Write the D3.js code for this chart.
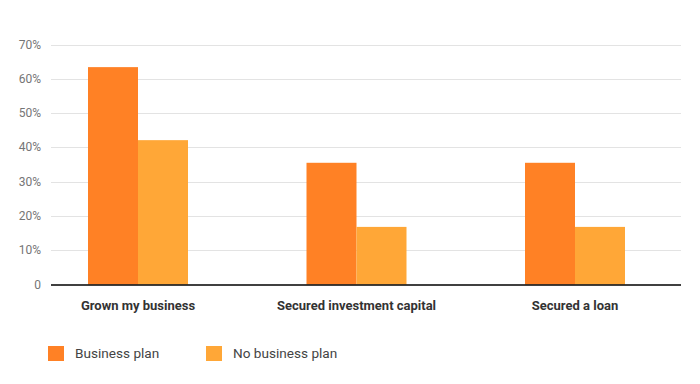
<!DOCTYPE html>
<html lang="en">
<head>
<meta charset="utf-8">
<title>Business plan outcomes</title>
<script src="https://cdn.jsdelivr.net/npm/d3@7"></script>
<style>
  body { margin: 0; background: #fff; }
  svg text { font-family: Roboto, "Noto Sans", sans-serif; }
</style>
</head>
<body>
<script>
// data
var categories = ["Grown my business", "Secured investment capital", "Secured a loan"];
var seriesNames = ["Business plan", "No business plan"];
var businessPlan = [63.4, 35.5, 35.5];
var noBusinessPlan = [42.1, 16.8, 16.8];
var yTicks = [0, 10, 20, 30, 40, 50, 60, 70];
var colors = ["#ff8125", "#ffa737"];

var w = 700, h = 384;
// note: "top" is taken by window.top, so plot edges get a prefix
var plotLeft = 51, plotRight = 681, plotTop = 44.5, plotBottom = 284.5;

var svg = d3.select("body").append("svg")
  .attr("width", w)
  .attr("height", h);

var y = d3.scaleLinear().domain([0, 70]).range([plotBottom, plotTop]);

// group centres, then bars inside each group
var x0 = d3.scalePoint().domain(categories).range([138, 575]);
var x1 = d3.scaleBand().domain(seriesNames).range([-50, 50]);

// gridlines
svg.append("g").selectAll("line")
  .data(yTicks.slice(1))
  .enter().append("line")
  .attr("x1", plotLeft).attr("x2", plotRight)
  .attr("y1", function(d) { return Math.round(y(d)) + 0.5; })
  .attr("y2", function(d) { return Math.round(y(d)) + 0.5; })
  .attr("stroke", "#e3e3e3")
  .attr("stroke-width", 1);

// tick labels
svg.append("g").selectAll("text")
  .data(yTicks)
  .enter().append("text")
  .attr("x", 41)
  .attr("y", function(d) { return y(d) + 4; })
  .attr("text-anchor", "end")
  .attr("font-size", "12px")
  .attr("fill", "#757575")
  .text(function(d) { return d === 0 ? "0" : d + "%"; });

// bars
var rows = categories.map(function(c, i) {
  return { cat: c, values: [businessPlan[i], noBusinessPlan[i]] };
});

var groups = svg.append("g").selectAll("g")
  .data(rows)
  .enter().append("g")
  .attr("transform", function(d) { return "translate(" + x0(d.cat) + ",0)"; });

groups.selectAll("rect")
  .data(function(d) { return d.values.map(function(v, i) { return { name: seriesNames[i], v: v, i: i }; }); })
  .enter().append("rect")
  .attr("x", function(d) { return x1(d.name); })
  .attr("y", function(d) { return y(d.v); })
  .attr("width", x1.bandwidth())
  .attr("height", function(d) { return y(0) - y(d.v); })
  .attr("fill", function(d) { return colors[d.i]; });

// baseline
svg.append("line")
  .attr("x1", plotLeft).attr("x2", plotRight)
  .attr("y1", plotBottom + 0.5).attr("y2", plotBottom + 0.5)
  .attr("stroke", "#000")
  .attr("stroke-width", 1.5);

// category labels
svg.append("g").selectAll("text")
  .data(categories)
  .enter().append("text")
  .attr("x", function(d) { return x0(d); })
  .attr("y", 309.5)
  .attr("text-anchor", "middle")
  .attr("font-size", "13px")
  .attr("font-weight", "bold")
  .attr("fill", "#333")
  .text(function(d) { return d; });

// legend
var legendX = [48, 206];
var legend = svg.append("g").selectAll("g")
  .data(seriesNames)
  .enter().append("g")
  .attr("transform", function(d, i) { return "translate(" + legendX[i] + ",346)"; });

legend.append("rect")
  .attr("width", 16).attr("height", 15)
  .attr("fill", function(d, i) { return colors[i]; });

legend.append("text")
  .attr("x", 27)
  .attr("y", 11.5)
  .attr("font-size", "13.6px")
  .attr("fill", "#444")
  .text(function(d) { return d; });
</script>
</body>
</html>
